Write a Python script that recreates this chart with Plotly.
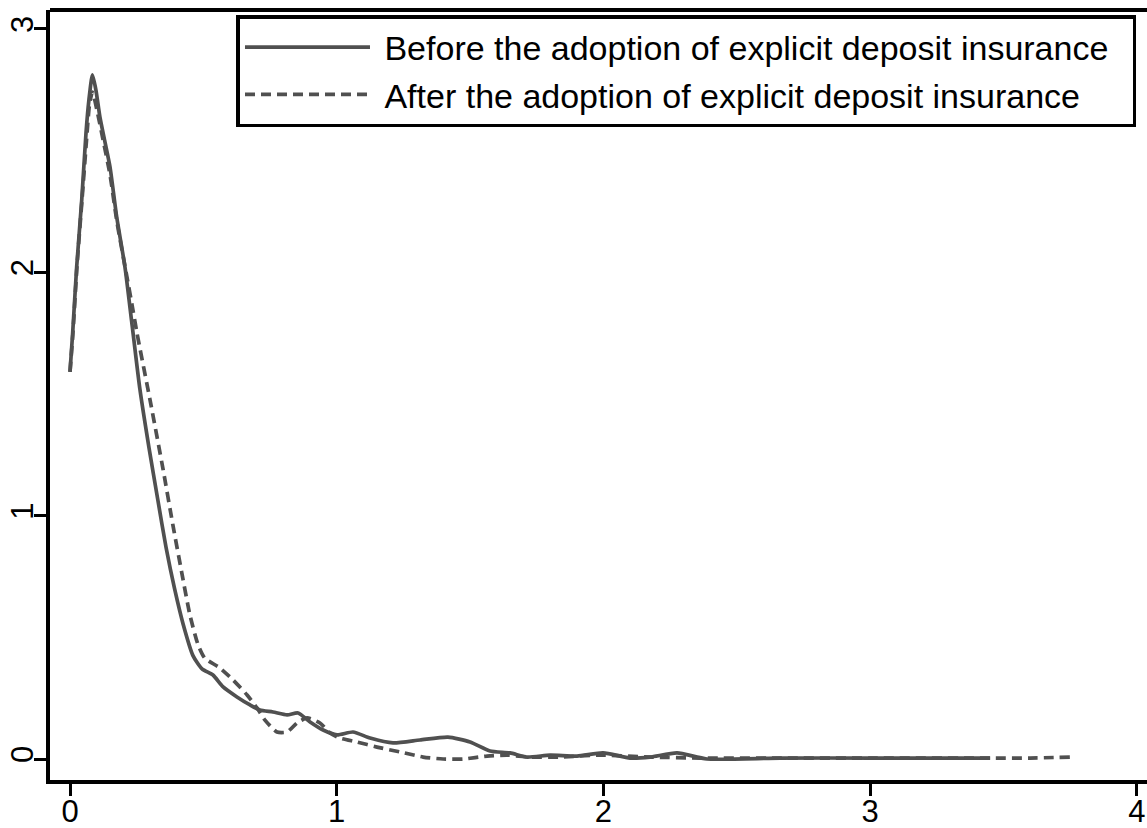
import plotly.graph_objects as go

# Kernel density estimates
before_x = [0.000, 0.010, 0.025, 0.044, 0.060, 0.071, 0.084, 0.097, 0.112, 0.131, 0.150, 0.175,
            0.206, 0.231, 0.262, 0.296, 0.330, 0.360, 0.392, 0.424, 0.461, 0.495, 0.536, 0.574,
            0.626, 0.675, 0.712, 0.761, 0.814, 0.855, 0.900, 0.949, 1.001, 1.061, 1.125, 1.211,
            1.312, 1.417, 1.500, 1.575, 1.650, 1.714, 1.800, 1.901, 1.999, 2.100, 2.175, 2.276,
            2.388, 2.662, 3.000, 3.450]
before_y = [1.591, 1.751, 2.022, 2.298, 2.573, 2.709, 2.811, 2.750, 2.639, 2.536, 2.433, 2.228,
            2.022, 1.800, 1.520, 1.280, 1.060, 0.870, 0.700, 0.555, 0.425, 0.370, 0.345, 0.296,
            0.255, 0.222, 0.201, 0.193, 0.181, 0.189, 0.152, 0.119, 0.099, 0.111, 0.086, 0.066,
            0.078, 0.090, 0.070, 0.033, 0.025, 0.008, 0.016, 0.012, 0.025, 0.004, 0.008, 0.025,
            0.000, 0.004, 0.004, 0.004]

after_x = [0.000, 0.011, 0.026, 0.045, 0.062, 0.073, 0.084, 0.101, 0.124, 0.150, 0.176, 0.210,
           0.236, 0.251, 0.300, 0.349, 0.386, 0.420, 0.450, 0.480, 0.505, 0.562, 0.611, 0.664,
           0.701, 0.731, 0.776, 0.814, 0.851, 0.889, 0.937, 0.975, 1.012, 1.076, 1.151, 1.237,
           1.324, 1.399, 1.474, 1.564, 1.639, 1.725, 1.837, 1.987, 2.175, 2.362, 2.662, 3.000,
           3.450, 3.600, 3.750]
after_y = [1.591, 1.751, 2.022, 2.298, 2.544, 2.688, 2.741, 2.667, 2.544, 2.401, 2.207, 2.002,
           1.845, 1.751, 1.476, 1.190, 0.960, 0.760, 0.590, 0.470, 0.415, 0.374, 0.325, 0.263,
           0.210, 0.160, 0.111, 0.111, 0.148, 0.169, 0.148, 0.107, 0.086, 0.070, 0.049, 0.029,
           0.008, 0.000, 0.000, 0.012, 0.016, 0.008, 0.008, 0.016, 0.008, 0.004, 0.004, 0.004,
           0.004, 0.004, 0.008]

x_ticks = [0, 1, 2, 3, 4]
y_ticks = [0, 1, 2, 3]
series_names = ["Before the adoption of explicit deposit insurance",
                "After the adoption of explicit deposit insurance"]

LINE_COLOR = "#505050"
FONT = "Liberation Sans, Arial, sans-serif"
PAD = "\u00a0\u00a0"  # padding inside the legend box

fig = go.Figure()
fig.add_trace(go.Scatter(x=before_x, y=before_y, mode="lines", name="\u00a0" + series_names[0] + PAD,
                         line=dict(color=LINE_COLOR, width=3.7, shape="spline", smoothing=0.6)))
fig.add_trace(go.Scatter(x=after_x, y=after_y, mode="lines", name="\u00a0" + series_names[1] + PAD,
                         line=dict(color=LINE_COLOR, width=3.7, dash="10px,6px",
                                   shape="spline", smoothing=0.6)))

fig.update_layout(
    width=1147, height=828,
    margin=dict(l=50, r=0, t=10, b=48),
    paper_bgcolor="white", plot_bgcolor="white",
    font=dict(family=FONT, color="black"),
    legend=dict(
        x=0.1700, y=0.9935, xanchor="left", yanchor="top",
        bgcolor="white", bordercolor="black", borderwidth=3.5,
        font=dict(size=34, family=FONT, color="black"),
        itemwidth=125, tracegroupgap=0,
    ),
    showlegend=True,
    shapes=[dict(type="line", xref="paper", yref="paper", x0=0, x1=1, y0=1, y1=1,
                 line=dict(color="black", width=4))],
)
fig.update_xaxes(
    range=[-0.075, 4.038], tickvals=x_ticks, ticktext=[str(v) for v in x_ticks],
    showgrid=False, zeroline=False, showline=True, linecolor="black", linewidth=4,
    ticks="outside", ticklen=12, tickwidth=3, tickcolor="black", automargin=False,
    ticklabelstandoff=-11,
    tickfont=dict(size=31, family=FONT, color="black"),
)
fig.update_yaxes(
    range=[-0.0863, 3.078], tickvals=y_ticks, ticktext=[str(v) for v in y_ticks],
    showgrid=False, zeroline=False, showline=True, linecolor="black", linewidth=4,
    ticks="outside", ticklen=12, tickwidth=3, tickcolor="black", tickangle=-90,
    automargin=False, ticklabelstandoff=-11,
    tickfont=dict(size=31, family=FONT, color="black"),
)

fig.write_html("out.html", config={"displayModeBar": False},
               post_script="document.body.style.margin='0';document.body.style.overflow='hidden';")
